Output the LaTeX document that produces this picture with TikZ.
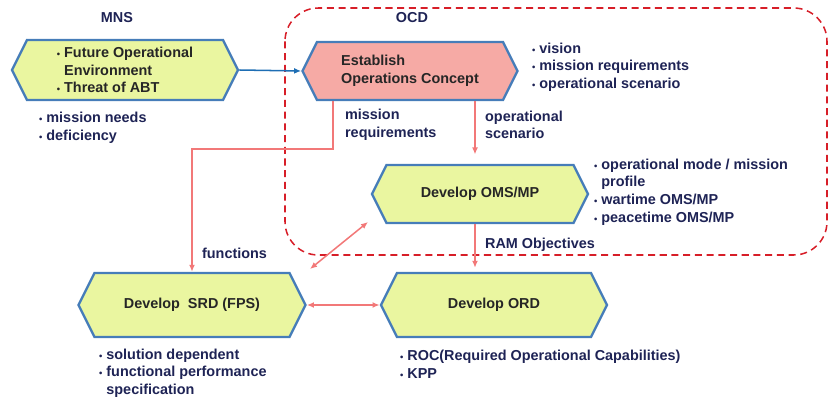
\documentclass[tikz,border=0pt]{standalone}
\usepackage{fontspec}
\setmainfont{Liberation Sans}
\usetikzlibrary{arrows.meta,positioning,calc,shapes.symbols}
\definecolor{hexgreen}{RGB}{234,246,160}
\definecolor{hexpink}{RGB}{246,170,165}
\definecolor{hexedge}{RGB}{70,125,185}
\definecolor{linkred}{RGB}{242,120,120}
\definecolor{linkblue}{RGB}{30,110,180}
\definecolor{ocdred}{RGB}{215,30,40}
\definecolor{navy}{RGB}{30,35,85}
\newcommand{\bul}{{\fontsize{8}{8}\selectfont•}\ }

\begin{document}
\begin{tikzpicture}[x=0.03cm,y=-0.03cm,font=\fontsize{12.3}{15}\selectfont\bfseries,
  >={Latex[length=6pt,width=5pt]},
  hex/.style={shape=signal,signal to=east and west,signal pointer angle=127,
    draw=hexedge,line width=2pt,fill=hexgreen,text=black!85,inner sep=2pt},
  note/.style={anchor=west,align=left,text=navy},
  link/.style={draw=linkred,line width=1.3pt},
  ocd/.style={draw=ocdred,line width=1.3pt,dash pattern=on 6pt off 4pt,rounded corners=1cm}]
\useasboundingbox (0,0) rectangle (829,398);
% OCD frame
\draw[ocd] (285,8) rectangle (827,255);
\node[text=navy] (mnslbl) at (117,18) {MNS};
\node[text=navy] (ocdlbl) at (412,18) {OCD};
% process boxes
\node[hex,minimum width=6.78cm,minimum height=1.8cm,align=left] (mns) at (125,70)
  {\bul Future Operational\\\phantom{\bul}Environment\\\bul Threat of ABT};
\node[hex,fill=hexpink,minimum width=6.45cm,minimum height=1.74cm,align=left] (est) at (410,71)
  {Establish\\Operations Concept};
\node[hex,minimum width=6.48cm,minimum height=1.74cm] (oms) at (480,194) {Develop OMS/MP};
\node[hex,minimum width=6.81cm,minimum height=1.92cm] (srd) at (192,305) {Develop\ \ SRD (FPS)};
\node[hex,minimum width=6.78cm,minimum height=1.92cm] (ord) at (494,305) {Develop ORD};
% notes
\node[note] (mnsnote) at (35,128) {\bul mission needs\\\bul deficiency};
\node[note] (estnote) at (528,67) {\bul vision\\\bul mission requirements\\\bul operational scenario};
\node[note] (omsnote) at (590,192) {\bul operational mode / mission\\\phantom{\bul}profile\\\bul wartime OMS/MP\\\bul peacetime OMS/MP};
\node[note] (srdnote) at (95,373) {\bul solution dependent\\\bul functional performance\\\phantom{\bul}specification};
\node[note] (ordnote) at (396,364) {\bul ROC(Required Operational Capabilities)\\\bul KPP};
% connectors
\draw[->,draw=linkblue,line width=1.3pt] (mns.east) -- (est.west);
\draw[link,->] ($(est.south)+(-77,0)$) -- ++(0,48) -| (srd.north);
\node[note] (fnlbl) at (198,253) {functions};
\node[note] (mrlbl) at (341,125) {mission\\requirements};
\draw[link,->,shorten >=0.28cm] ($(est.south)+(65,0)$) -- ($(oms.north)+(-5,0)$);
\node[note] (oslbl) at (481,125) {operational\\scenario};
\draw[link,->,shorten >=0.12cm] ($(oms.south)+(-5,0)$) -- ($(ord.north)+(-19,0)$);
\node[note] (ramlbl) at (481,245) {RAM Objectives};
\coordinate (da) at (368,222);
\coordinate (db) at (310,269);
\draw[link,<->] (da) -- (db);
\draw[link,<->] (srd.east) -- (ord.west);
\end{tikzpicture}
\end{document}
